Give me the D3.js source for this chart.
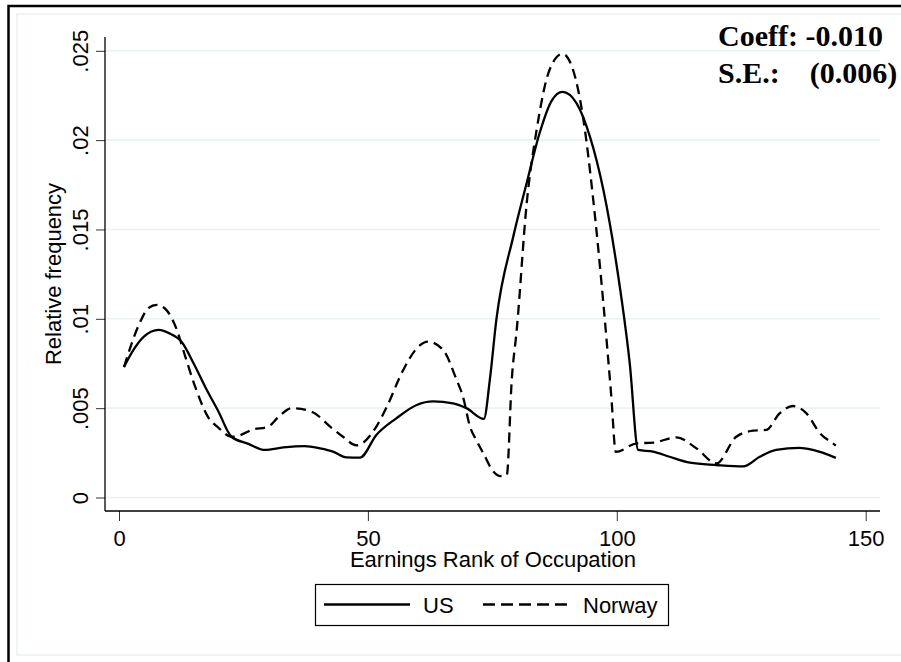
<!DOCTYPE html>
<html lang="en">
<head>
<meta charset="utf-8">
<title>Earnings rank density</title>
<script src="https://cdn.jsdelivr.net/npm/d3@7"></script>
<style>
  body { margin: 0; background: #fff; }
  text { font-family: "Liberation Sans", Arial, sans-serif; fill: #000; }
</style>
</head>
<body>
<script>
// data
var usRank = [1, 3, 5, 8, 10, 12.6, 15, 17.3, 20, 22.6, 26, 29.3, 33, 37.3, 40.4, 43, 45.7, 48.4, 51.7, 55.7,
  59.8, 63.1, 67.1, 69.8, 73.3, 74.5, 75.8, 79.2, 81.9, 84.5, 86.9, 89.1, 91.9, 94.6, 97.3, 99.9, 102.6, 104.3,
  107.3, 110.6, 114.7, 120, 125.4, 128.7, 132, 136.7, 139.4, 144];
var usFreq = [0.0073, 0.0083, 0.0090, 0.00938, 0.0092, 0.0087, 0.0075, 0.0062, 0.0048, 0.0034, 0.0030, 0.00266,
  0.0028, 0.00288, 0.00275, 0.00257, 0.00225, 0.00223, 0.0035, 0.00443, 0.00518, 0.00538, 0.00527, 0.0050, 0.0044,
  0.0066, 0.00994, 0.0146, 0.0176, 0.0204, 0.0222, 0.0227, 0.02207, 0.0202, 0.01722, 0.01311, 0.00751, 0.00266,
  0.00257, 0.00228, 0.00195, 0.00182, 0.00174, 0.00228, 0.00266, 0.00278, 0.00266, 0.00222];

var norRank = [1, 3.9, 5.9, 7.6, 9.5, 11.6, 13.3, 15.3, 17.9, 20, 22.6, 24.5, 26.6, 30, 32, 34.7, 38.7, 42.7, 45, 47.7,
  51.7, 53.8, 57.1, 60, 62.1, 65.1, 67.8, 69.1, 70.5, 71.8, 73.2, 75.2, 76.5, 77.9, 78.9, 79.9, 81.9, 83.9, 86.5, 89.1,
  91.2, 93.2, 95.2, 97.3, 98.9, 99.8, 104, 107.3, 112, 116, 120, 124, 127.4, 130, 132.7, 135.4, 138.1, 140.8, 143.4, 144];
var norFreq = [0.0073, 0.0096, 0.0106, 0.01078, 0.0105, 0.0094, 0.0079, 0.0062, 0.0045, 0.0039, 0.0034, 0.0035,
  0.00378, 0.00397, 0.0045, 0.0050, 0.0048, 0.0039, 0.0034, 0.00292, 0.00397, 0.00508, 0.00714, 0.0084, 0.00872,
  0.00826, 0.0066, 0.00564, 0.00397, 0.0032, 0.00247, 0.00145, 0.0012, 0.00126, 0.0066, 0.00938, 0.01647, 0.02058,
  0.02394, 0.02483, 0.02394, 0.02132, 0.01684, 0.01087, 0.00564, 0.00255, 0.00303, 0.00307, 0.00337, 0.00275,
  0.00191, 0.0034, 0.00374, 0.00378, 0.00471, 0.00512, 0.00471, 0.0036, 0.00303, 0.0029];

var xTicks = [0, 50, 100, 150];
var yTicks = [0, 0.005, 0.01, 0.015, 0.02, 0.025];
var yTickLabels = ["0", ".005", ".01", ".015", ".02", ".025"];
var seriesNames = ["US", "Norway"];
var noteLines = ["Coeff: -0.010", "S.E.:    (0.006)"];

var w = 901, h = 662;
var plotLeft = 105, plotRight = 880, plotTop = 37, plotBottom = 511;

var xScale = d3.scaleLinear().domain([0, 150]).range([119, 865.7]);
var yScale = d3.scaleLinear().domain([0, 0.025]).range([497.5, 50.8]);

var svg = d3.select("body").append("svg")
  .attr("width", w)
  .attr("height", h);

svg.append("rect").attr("width", w).attr("height", h).attr("fill", "#fff");

// outer frame + light inner frame
svg.append("rect")
  .attr("x", 8.5).attr("y", 6).attr("width", 1000).attr("height", 1000)
  .attr("fill", "none").attr("stroke", "#000").attr("stroke-width", 2.5);
svg.append("rect")
  .attr("x", 17).attr("y", 14).attr("width", 1000).attr("height", 641)
  .attr("fill", "none").attr("stroke", "#eaf2f3").attr("stroke-width", 1.5);

// gridlines
svg.append("g").selectAll("line")
  .data(yTicks)
  .enter().append("line")
  .attr("x1", plotLeft).attr("x2", plotRight)
  .attr("y1", function(d) { return yScale(d); })
  .attr("y2", function(d) { return yScale(d); })
  .attr("stroke", "#eaf2f3").attr("stroke-width", 1.6);

// axes
var xAxis = d3.axisBottom(xScale).tickValues(xTicks).tickSize(10).tickFormat(d3.format("d"));
var yAxis = d3.axisLeft(yScale).tickValues(yTicks).tickSize(9)
  .tickFormat(function(d, i) { return yTickLabels[i]; });

var gx = svg.append("g")
  .attr("transform", "translate(0," + plotBottom + ")")
  .call(xAxis);
gx.select(".domain").remove();
gx.selectAll(".tick line").attr("stroke", "#333");
gx.selectAll(".tick text")
  .attr("y", 35).attr("dy", null)
  .attr("font-size", "22px").attr("font-family", null);
gx.append("line")
  .attr("x1", plotLeft).attr("x2", plotRight)
  .attr("stroke", "#000").attr("stroke-width", 1.3);

var gy = svg.append("g")
  .attr("transform", "translate(" + plotLeft + ",0)")
  .call(yAxis);
gy.select(".domain").remove();
gy.selectAll(".tick line").attr("stroke", "#333");
gy.selectAll(".tick text")
  .attr("x", null).attr("dy", null)
  .attr("text-anchor", "middle")
  .attr("transform", "translate(-17,0) rotate(-90)")
  .attr("font-size", "22px").attr("font-family", null);
gy.append("line")
  .attr("y1", plotTop).attr("y2", plotBottom)
  .attr("stroke", "#000").attr("stroke-width", 1.3);

// axis titles
svg.append("text")
  .attr("x", (plotLeft + plotRight) / 2 + 0.5).attr("y", 567)
  .attr("text-anchor", "middle").attr("font-size", "22px")
  .text("Earnings Rank of Occupation");
svg.append("text")
  .attr("transform", "translate(61," + (plotTop + plotBottom) / 2 + ") rotate(-90)")
  .attr("text-anchor", "middle").attr("font-size", "22px")
  .text("Relative frequency");

// curves
var line = d3.line()
  .x(function(d) { return xScale(d[0]); })
  .y(function(d) { return yScale(d[1]); })
  .curve(d3.curveMonotoneX);

var usData = d3.zip(usRank, usFreq);
var norData = d3.zip(norRank, norFreq);

svg.append("path")
  .datum(usData)
  .attr("d", line)
  .attr("fill", "none").attr("stroke", "#000").attr("stroke-width", 2.3)
  .attr("stroke-linejoin", "round");

svg.append("path")
  .datum(norData)
  .attr("d", line)
  .attr("fill", "none").attr("stroke", "#000").attr("stroke-width", 2.3)
  .attr("stroke-dasharray", "10,6");

// legend
var legend = svg.append("g");
legend.append("rect")
  .attr("x", 315.5).attr("y", 584.5).attr("width", 353).attr("height", 41)
  .attr("fill", "#fff").attr("stroke", "#000").attr("stroke-width", 1.2);
legend.append("line")
  .attr("x1", 324).attr("x2", 410).attr("y1", 604.5).attr("y2", 604.5)
  .attr("stroke", "#000").attr("stroke-width", 2.5);
legend.append("text").attr("x", 423).attr("y", 613).attr("font-size", "22px").text(seriesNames[0]);
legend.append("line")
  .attr("x1", 483).attr("x2", 569).attr("y1", 604.5).attr("y2", 604.5)
  .attr("stroke", "#000").attr("stroke-width", 2.5).attr("stroke-dasharray", "12,6");
legend.append("text").attr("x", 583).attr("y", 613).attr("font-size", "22px").text(seriesNames[1]);

// coefficient note
svg.selectAll(".note")
  .data(noteLines)
  .enter().append("text")
  .attr("class", "note")
  .attr("x", 718)
  .attr("y", function(d, i) { return 46 + i * 37; })
  .attr("xml:space", "preserve")
  .style("white-space", "pre")
  .style("font-family", "'Liberation Serif', 'Times New Roman', serif")
  .style("font-weight", "bold")
  .style("font-size", "30px")
  .text(function(d) { return d; });
</script>
</body>
</html>
